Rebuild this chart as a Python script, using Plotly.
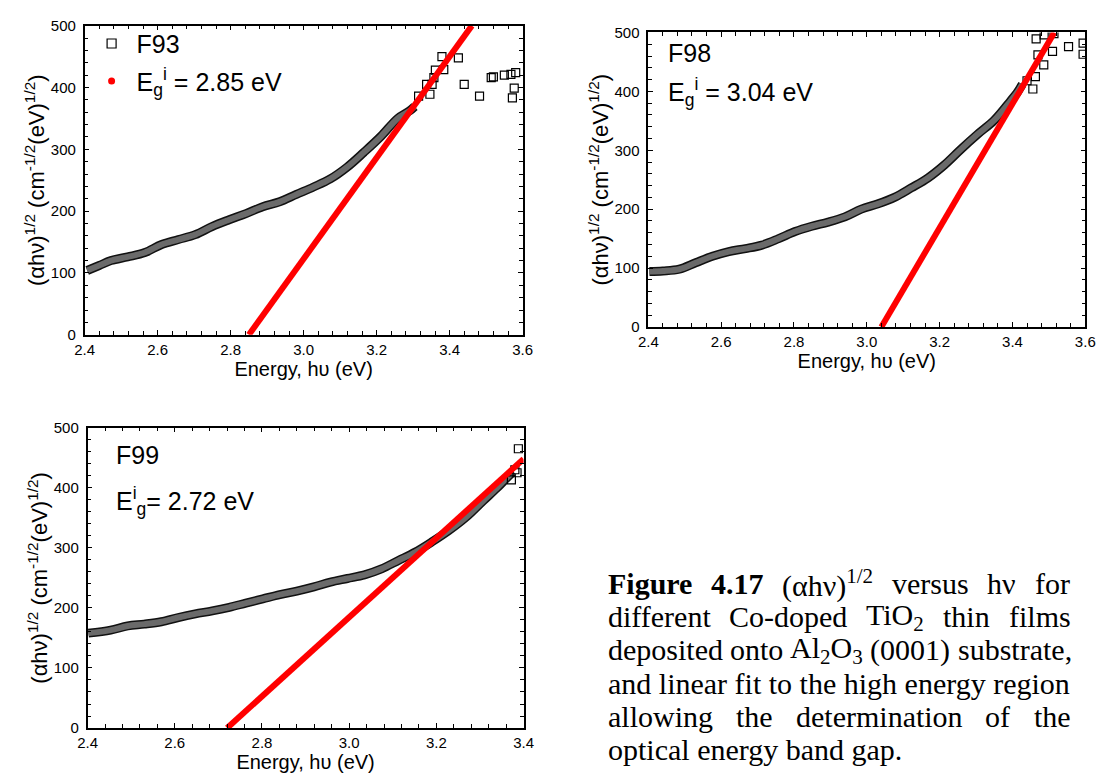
import plotly.graph_objects as go

W, H = 1111, 783

# ---------------- data ----------------
f93_x = [2.407, 2.44, 2.472, 2.518, 2.565, 2.611, 2.657, 2.703, 2.749, 2.796, 2.842, 2.888,
         2.934, 2.98, 3.027, 3.073, 3.119, 3.165, 3.212, 3.258, 3.29, 3.304]
f93_y = [104, 112, 120, 126, 133, 146, 154, 162, 175, 186, 196, 207,
         215, 227, 239, 252, 271, 295, 321, 350, 362, 369]
f93_sx = [3.315, 3.337, 3.346, 3.352, 3.357, 3.361, 3.379, 3.384, 3.424, 3.44, 3.482,
          3.514, 3.52, 3.55, 3.568, 3.581, 3.577, 3.572]
f93_sy = [386, 405, 389, 405, 416, 428, 450, 429, 448, 405, 386,
          416, 417, 420, 421, 424, 399, 383]
f93_fit_x = [2.85, 3.461]
f93_fit_y = [0, 500]

f98_x = [2.403, 2.44, 2.485, 2.53, 2.576, 2.621, 2.667, 2.712, 2.758, 2.803, 2.849, 2.894,
         2.94, 2.985, 3.031, 3.076, 3.122, 3.168, 3.213, 3.259, 3.304, 3.35, 3.395, 3.413, 3.427]
f98_y = [94, 95, 98, 109, 120, 128, 133, 139, 150, 162, 171, 178,
         187, 200, 209, 220, 236, 253, 275, 302, 327, 351, 384, 398, 412]
f98_sx = [3.44, 3.456, 3.463, 3.465, 3.47, 3.486, 3.487, 3.51, 3.514, 3.554, 3.594, 3.594]
f98_sy = [418, 404, 425, 489, 462, 445, 496, 468, 498, 476, 482, 463]
f98_fit_x = [3.04, 3.515]
f98_fit_y = [0, 500]

f99_x = [2.402, 2.453, 2.492, 2.53, 2.569, 2.608, 2.647, 2.686, 2.725, 2.763, 2.802, 2.841,
         2.88, 2.919, 2.957, 2.996, 3.035, 3.074, 3.113, 3.152, 3.19, 3.229, 3.268, 3.307,
         3.338, 3.361, 3.376]
f99_y = [158, 163, 170, 173, 177, 184, 190, 195, 201, 208, 215, 222,
         228, 235, 243, 249, 255, 265, 279, 293, 310, 329, 351, 378,
         399, 416, 427]
f99_sx = [3.372, 3.38, 3.385, 3.388]
f99_sy = [413, 430, 425, 465]
f99_fit_x = [2.72, 3.4]
f99_fit_y = [0, 448]

x_ticks_a = [2.4, 2.6, 2.8, 3.0, 3.2, 3.4, 3.6]
x_labels_a = ["2.4", "2.6", "2.8", "3.0", "3.2", "3.4", "3.6"]
x_ticks_b = [2.4, 2.6, 2.8, 3.0, 3.2, 3.4]
x_labels_b = ["2.4", "2.6", "2.8", "3.0", "3.2", "3.4"]
y_ticks = [0, 100, 200, 300, 400, 500]

# caption: words per line, (plotly markup, plain text for width, bold?, sup/sub text)
caption_lines = [
    [("<b>Figure</b>", "Figure", True, ""), ("<b>4.17</b>", "4.17", True, ""),
     ("(αhν)<sup>1/2</sup>", "(αhν)", False, "1/2"), ("versus", "versus", False, ""),
     ("hν", "hν", False, ""), ("for", "for", False, "")],
    [("different", "different", False, ""), ("Co-doped", "Co-doped", False, ""),
     ("TiO<sub>2</sub>", "TiO", False, "2"), ("thin", "thin", False, ""), ("films", "films", False, "")],
    [("deposited", "deposited", False, ""), ("onto", "onto", False, ""),
     ("Al<sub>2</sub>O<sub>3</sub>", "AlO", False, "23"), ("(0001)", "(0001)", False, ""),
     ("substrate,", "substrate,", False, "")],
    [("and linear fit to the high energy region", None, False, "")],
    [("allowing", "allowing", False, ""), ("the", "the", False, ""),
     ("determination", "determination", False, ""), ("of", "of", False, ""), ("the", "the", False, "")],
    [("optical energy band gap.", None, False, "")],
]
caption_y = [587, 621, 655, 689, 723, 757]

# ---------------- helpers ----------------
SANS = "Liberation Sans, Arial, sans-serif"
SERIF = "Liberation Serif, Times New Roman, serif"
CAP_SIZE = 30
CAP_LEFT, CAP_RIGHT = 607, 1077

TIMES = {' ': 250, '(': 333, ')': 333, ',': 250, '-': 333, '.': 250, '/': 278,
         'A': 722, 'C': 667, 'F': 556, 'O': 722, 'T': 611,
         'a': 444, 'b': 500, 'c': 444, 'd': 500, 'e': 444, 'f': 333, 'g': 500, 'h': 500,
         'i': 278, 'l': 278, 'm': 778, 'n': 500, 'o': 500, 'p': 500, 'r': 333, 's': 389,
         't': 278, 'u': 500, 'v': 500, 'w': 722, 'x': 500, 'y': 500, 'α': 520, 'ν': 470}
TIMES_B = {'F': 611, 'i': 278, 'g': 500, 'u': 556, 'r': 444, 'e': 444, '.': 250}


def text_w(s, size, bold=False):
    tot = 0
    for ch in s:
        if ch.isdigit():
            tot += 500
        elif bold and ch in TIMES_B:
            tot += TIMES_B[ch]
        else:
            tot += TIMES.get(ch, 500)
    return tot * size / 1000.0


fig = go.Figure()


def px_x(p):
    return p / W


def px_y(p):
    return 1 - p / H


def add_panel(n, xs, ys, sx, sy, fx, fy):
    xa = "x" if n == 1 else f"x{n}"
    ya = "y" if n == 1 else f"y{n}"
    fig.add_trace(go.Scatter(x=xs, y=ys, mode="lines", xaxis=xa, yaxis=ya,
                             line=dict(color="#111111", width=9, shape="spline"),
                             showlegend=False, hoverinfo="skip"))
    fig.add_trace(go.Scatter(x=xs, y=ys, mode="lines", xaxis=xa, yaxis=ya,
                             line=dict(color="#6a6a6a", width=6, shape="spline"),
                             showlegend=False))
    fig.add_trace(go.Scatter(x=sx, y=sy, mode="markers", xaxis=xa, yaxis=ya,
                             marker=dict(symbol="square-open", size=8, color="black",
                                         line=dict(width=1.2)),
                             showlegend=False))
    fig.add_trace(go.Scatter(x=fx, y=fy, mode="lines", xaxis=xa, yaxis=ya,
                             line=dict(color="#ff0000", width=6), showlegend=False))


add_panel(1, f93_x, f93_y, f93_sx, f93_sy, f93_fit_x, f93_fit_y)
add_panel(2, f98_x, f98_y, f98_sx, f98_sy, f98_fit_x, f98_fit_y)
add_panel(3, f99_x, f99_y, f99_sx, f99_sy, f99_fit_x, f99_fit_y)

# legend entries for panel 1
fig.add_trace(go.Scatter(x=[None], y=[None], mode="markers", name="F93", legendgroup="a",
                         marker=dict(symbol="square-open", size=9, color="black", line=dict(width=1.2))))
fig.add_trace(go.Scatter(x=[None], y=[None], mode="markers", name="E<sub>g</sub><sup>i</sup> = 2.85 eV",
                         legendgroup="b", marker=dict(symbol="circle", size=7, color="#ff0000")))

ytitle = "(αhν)<sup>1/2</sup> (cm<sup>-1/2</sup>(eV)<sup>1/2</sup>)"
xtitle = "Energy, hυ (eV)"


def xaxis(dom, rng, tv, tt, anchor):
    return dict(domain=dom, range=rng, anchor=anchor, tickvals=tv, ticktext=tt,
                ticks="inside", ticklen=5, tickwidth=1, tickcolor="black",
                minor=dict(dtick=0.04, ticks="inside", ticklen=4, tickwidth=1, tickcolor="black"),
                showline=True, linecolor="black", linewidth=1.5, mirror="allticks",
                showgrid=False, zeroline=False,
                tickfont=dict(family=SANS, size=15, color="black"),
                title=dict(text=xtitle, font=dict(family=SANS, size=20, color="black"), standoff=1))


def yaxis(dom, anchor):
    return dict(domain=dom, range=[0, 500], anchor=anchor, tickvals=y_ticks,
                ticks="inside", ticklen=5, tickwidth=1, tickcolor="black",
                minor=dict(dtick=20, ticks="inside", ticklen=4, tickwidth=1, tickcolor="black"),
                showline=True, linecolor="black", linewidth=1.5, mirror="allticks",
                showgrid=False, zeroline=False, ticklabelstandoff=4,
                tickfont=dict(family=SANS, size=15, color="black"),
                title=dict(text=ytitle, font=dict(family=SANS, size=22, color="black"), standoff=0))


annotations = []
for text, xp, yp in [("F98", 668, 45), ("E<sub>g</sub><sup>i</sup> = 3.04 eV", 668, 85),
                     ("F99", 106, 456), ("E<sup>i</sup><sub>g</sub>= 2.72 eV", 106, 503)]:
    annotations.append(dict(text=text, x=px_x(xp), y=px_y(yp), xref="paper", yref="paper",
                            xanchor="left", yanchor="middle", showarrow=False,
                            font=dict(family=SANS, size=25, color="black")))

# justified caption
for line, yp in zip(caption_lines, caption_y):
    if line[0][1] is None:
        annotations.append(dict(text=line[0][0], x=px_x(CAP_LEFT), y=px_y(yp), xref="paper",
                                yref="paper", xanchor="left", yanchor="middle", showarrow=False,
                                font=dict(family=SERIF, size=CAP_SIZE, color="black")))
        continue
    widths = [text_w(plain, CAP_SIZE, bold) + text_w(sub, CAP_SIZE * 0.7)
              for _, plain, bold, sub in line]
    gap = (CAP_RIGHT - CAP_LEFT - sum(widths)) / (len(line) - 1)
    xp = CAP_LEFT
    for (markup, _, _, _), w in zip(line, widths):
        annotations.append(dict(text=markup, x=px_x(xp), y=px_y(yp), xref="paper", yref="paper",
                                xanchor="left", yanchor="middle", showarrow=False,
                                font=dict(family=SERIF, size=CAP_SIZE, color="black")))
        xp += w + gap

fig.update_layout(
    width=W, height=H, margin=dict(l=0, r=0, t=0, b=0),
    paper_bgcolor="white", plot_bgcolor="white",
    xaxis=xaxis([px_x(76), px_x(522)], [2.4, 3.6], x_ticks_a, x_labels_a, "y"),
    yaxis=yaxis([px_y(333), px_y(17)], "x"),
    xaxis2=xaxis([px_x(650), px_x(1095)], [2.4, 3.6], x_ticks_a, x_labels_a, "y2"),
    yaxis2=yaxis([px_y(325), px_y(24)], "x2"),
    xaxis3=xaxis([px_x(79), px_x(523)], [2.4, 3.4], x_ticks_b, x_labels_b, "y3"),
    yaxis3=yaxis([px_y(735), px_y(428)], "x3"),
    legend=dict(x=px_x(78), y=px_y(12), xanchor="left", yanchor="top", itemwidth=40,
                bgcolor="rgba(0,0,0,0)", borderwidth=0, tracegroupgap=2,
                font=dict(family=SANS, size=25, color="black")),
    annotations=annotations,
    showlegend=True,
)

fig.write_html("out.html")
